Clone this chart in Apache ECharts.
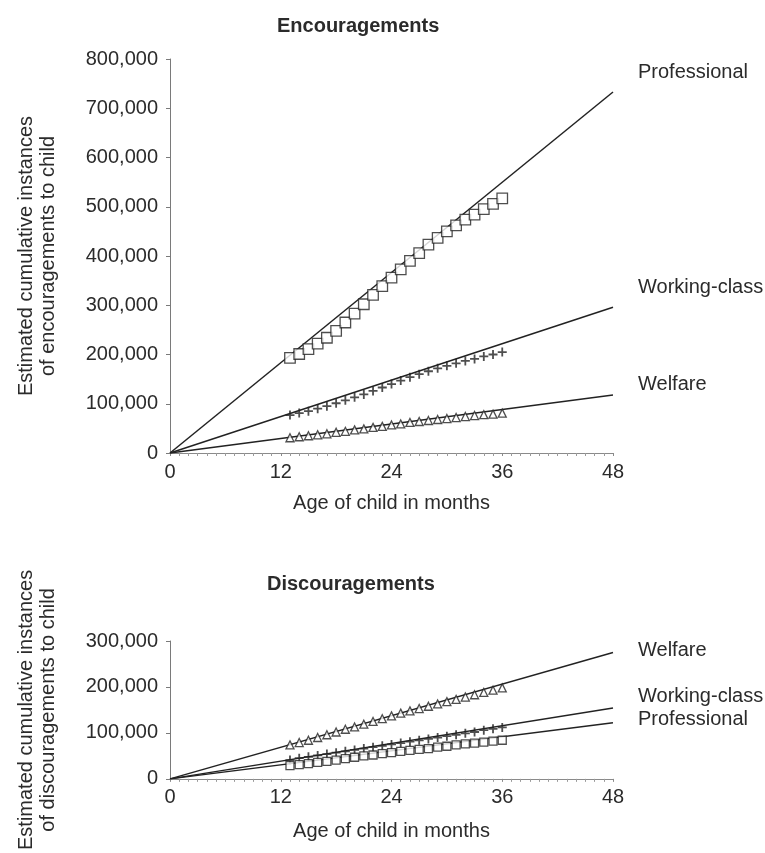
<!DOCTYPE html>
<html>
<head>
<meta charset="utf-8">
<script src="https://cdn.jsdelivr.net/npm/echarts@6/dist/echarts.min.js"></script>
<style>
  html, body { margin: 0; padding: 0; background: #fff; }
  #chart { width: 765px; height: 853px; }
</style>
</head>
<body>
<div id="chart"></div>
<script>
// Age in months for the observed points (monthly, 13 to 36)
const months = [13, 14, 15, 16, 17, 18, 19, 20, 21, 22, 23, 24,
                25, 26, 27, 28, 29, 30, 31, 32, 33, 34, 35, 36];

// Encouragements: cumulative observed counts
const encProfessional = [193000, 201000, 211000, 222000, 234000, 248000, 265000, 283000,
                         302000, 321000, 339000, 356000, 373000, 390000, 406000, 423000,
                         437000, 450000, 462000, 474000, 484000, 495000, 506000, 517000];
const encWorking = [77000, 81000, 85000, 90000, 95000, 101000, 107000, 113000,
                    119000, 126000, 133000, 140000, 147000, 154000, 160000, 166000,
                    172000, 177000, 182000, 187000, 191000, 196000, 200000, 205000];
const encWelfare = [31000, 33000, 35000, 37000, 39000, 42000, 44000, 47000,
                    49000, 52000, 54000, 57000, 59000, 62000, 64000, 66000,
                    68000, 70000, 72000, 74000, 76000, 78000, 79000, 81000];

// Discouragements: cumulative observed counts
const disWelfare = [74000, 79000, 84000, 90000, 96000, 102000, 108000, 113000,
                    119000, 125000, 131000, 137000, 143000, 148000, 153000, 158000,
                    163000, 168000, 173000, 178000, 183000, 188000, 193000, 198000];
const disWorking = [41000, 45000, 48000, 51000, 54000, 57000, 60000, 63000,
                    66000, 69000, 72000, 75000, 78000, 81000, 84000, 87000,
                    90000, 93000, 96000, 99000, 102000, 106000, 109000, 112000];
const disProfessional = [29000, 31000, 33000, 36000, 38000, 41000, 44000, 47000,
                         50000, 52000, 55000, 57000, 60000, 62000, 64000, 66000,
                         69000, 71000, 74000, 76000, 78000, 80000, 82000, 84000];

// Projected straight lines from birth to 48 months: [month, value] endpoints
const fitMonths = [0, 48];
const encProfessionalFit = [0, 733000];
const encWorkingFit = [0, 296000];
const encWelfareFit = [0, 118000];
const disWelfareFit = [0, 275000];
const disWorkingFit = [0, 154000];
const disProfessionalFit = [0, 122000];

// Axis ticks
const xTicks = [0, 12, 24, 36, 48];
const encYTicks = [0, 100000, 200000, 300000, 400000, 500000, 600000, 700000, 800000];
const disYTicks = [0, 100000, 200000, 300000];

const INK = '#222';
const TEXT = '#2b2b2b';
const FONT = '"Liberation Sans", Arial, Helvetica, sans-serif';

const pairs = (xs, ys) => xs.map((x, i) => [x, ys[i]]);

const plusPath = 'path://M4,0h2v4h4v2h-4v4h-2v-4h-4v-2h4z';

function fitSeries(name, ys, axisIdx, offset) {
  return {
    name: name,
    type: 'line',
    xAxisIndex: axisIdx,
    yAxisIndex: axisIdx,
    data: pairs(fitMonths, ys),
    symbol: 'none',
    silent: true,
    lineStyle: { color: INK, width: 1.5 },
    endLabel: {
      show: true,
      formatter: name,
      color: TEXT,
      fontFamily: FONT,
      fontSize: 20,
      distance: 0,
      offset: offset
    },
    z: 3
  };
}

function pointSeries(name, ys, axisIdx, symbol, size) {
  return {
    name: name,
    type: 'scatter',
    xAxisIndex: axisIdx,
    yAxisIndex: axisIdx,
    data: pairs(months, ys),
    symbol: symbol,
    symbolSize: size,
    silent: true,
    itemStyle: symbol === plusPath
      ? { color: INK, borderWidth: 0 }
      : { color: '#fff', borderColor: INK, borderWidth: 1.3 },
    z: 4
  };
}

function xAxisCfg(gridIndex, nameGap) {
  return {
    type: 'value',
    gridIndex: gridIndex,
    min: xTicks[0],
    max: xTicks[xTicks.length - 1],
    interval: xTicks[1] - xTicks[0],
    name: 'Age of child in months',
    nameLocation: 'middle',
    nameGap: nameGap,
    nameTextStyle: { color: TEXT, fontFamily: FONT, fontSize: 20 },
    axisLine: { show: true, lineStyle: { color: '#8a8a8a', width: 1 } },
    axisTick: { show: true, length: 3, lineStyle: { color: '#8a8a8a' } },
    minorTick: { show: true, splitNumber: 12, length: 3, lineStyle: { color: '#9a9a9a' } },
    axisLabel: { color: TEXT, fontFamily: FONT, fontSize: 20, margin: 9 },
    splitLine: { show: false },
    minorSplitLine: { show: false }
  };
}

function yAxisCfg(gridIndex, ticks, name) {
  return {
    type: 'value',
    gridIndex: gridIndex,
    min: ticks[0],
    max: ticks[ticks.length - 1],
    interval: ticks[1] - ticks[0],
    name: name,
    nameLocation: 'middle',
    nameRotate: 90,
    nameGap: 111,
    nameTextStyle: { color: TEXT, fontFamily: FONT, fontSize: 20, lineHeight: 22, align: 'center' },
    axisLine: { show: true, lineStyle: { color: '#7a7a7a', width: 1 } },
    axisTick: { show: true, length: 4, lineStyle: { color: '#7a7a7a' } },
    axisLabel: {
      color: TEXT, fontFamily: FONT, fontSize: 20, margin: 12,
      formatter: v => v.toLocaleString('en-US')
    },
    splitLine: { show: false }
  };
}

const chart = echarts.init(document.getElementById('chart'), null, { renderer: 'canvas' });

chart.setOption({
  animation: false,
  backgroundColor: '#ffffff',
  title: [
    {
      text: 'Encouragements', left: 272, top: 11,
      textStyle: { color: TEXT, fontFamily: FONT, fontSize: 20, fontWeight: 'bold' }
    },
    {
      text: 'Discouragements', left: 262, top: 569,
      textStyle: { color: TEXT, fontFamily: FONT, fontSize: 20, fontWeight: 'bold' }
    }
  ],
  grid: [
    { left: 170, top: 59, width: 443, height: 394, containLabel: false },
    { left: 170, top: 641, width: 443, height: 144, containLabel: false }
  ],
  xAxis: [xAxisCfg(0, 40), xAxisCfg(1, 43)],
  yAxis: [
    yAxisCfg(0, encYTicks, 'Estimated cumulative instances\nof encouragements to child'),
    yAxisCfg(1, disYTicks, 'Estimated cumulative instances\nof discouragements to child')
  ],
  series: [
    fitSeries('Professional', encProfessionalFit, 0, [25, -20]),
    fitSeries('Working-class', encWorkingFit, 0, [25, -20]),
    fitSeries('Welfare', encWelfareFit, 0, [25, -10]),
    pointSeries('Professional observed', encProfessional, 0, 'rect', 10.5),
    pointSeries('Working-class observed', encWorking, 0, plusPath, 9),
    pointSeries('Welfare observed', encWelfare, 0, 'triangle', 8),

    fitSeries('Welfare', disWelfareFit, 1, [25, -2]),
    fitSeries('Working-class', disWorkingFit, 1, [25, -12]),
    fitSeries('Professional', disProfessionalFit, 1, [25, -3]),
    pointSeries('Welfare observed', disWelfare, 1, 'triangle', 8),
    pointSeries('Working-class observed', disWorking, 1, plusPath, 9),
    pointSeries('Professional observed', disProfessional, 1, 'rect', 8)
  ]
});
</script>
</body>
</html>
